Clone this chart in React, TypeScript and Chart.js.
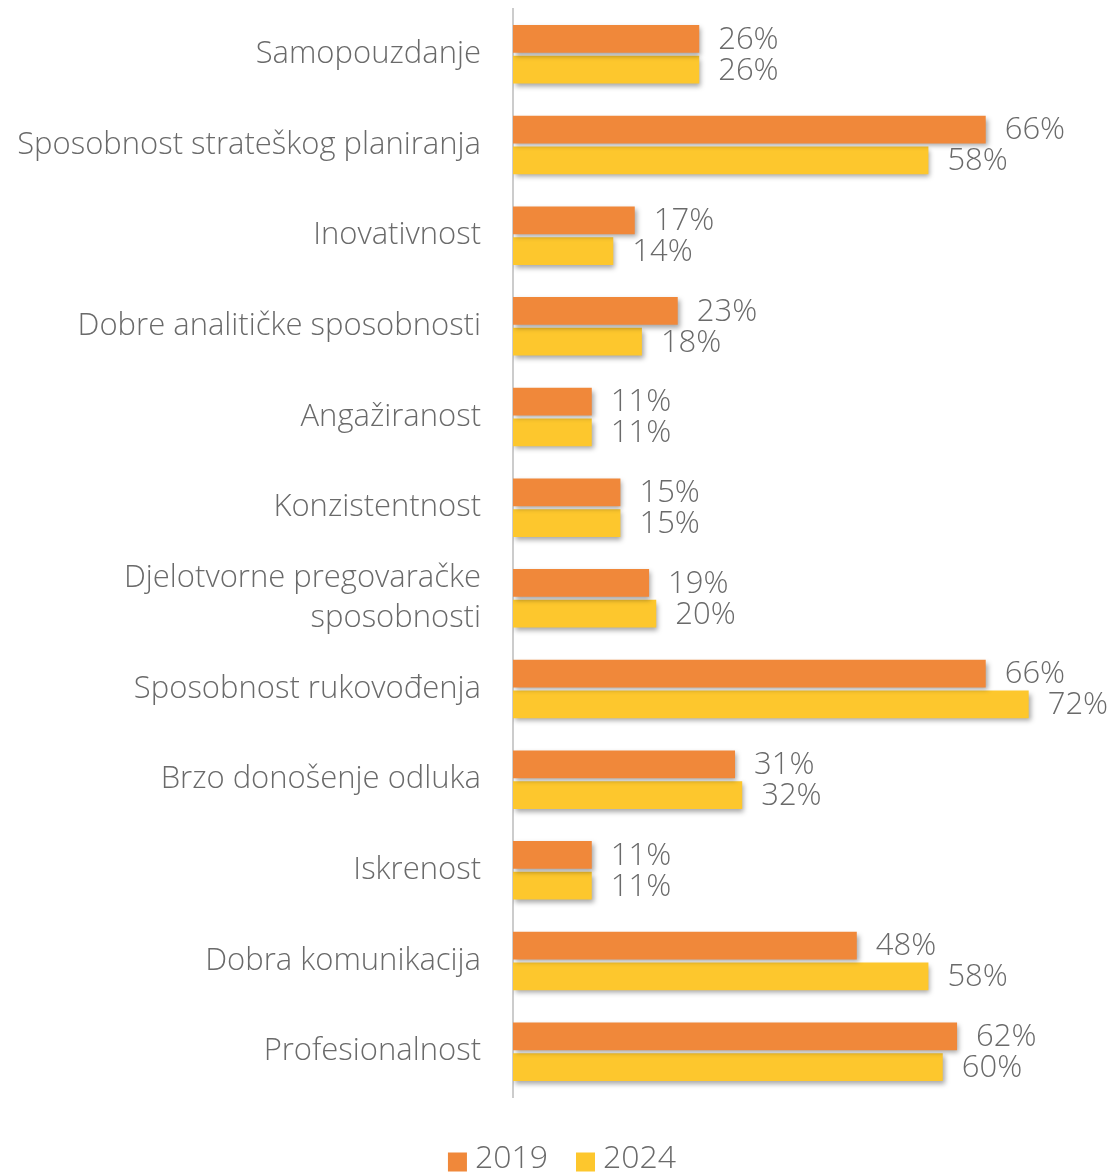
import React, { useEffect, useRef } from "react";
import { Chart, registerables } from "chart.js";

Chart.register(...registerables);

const categories: (string | string[])[] = [
  "Samopouzdanje",
  "Sposobnost strateškog planiranja",
  "Inovativnost",
  "Dobre analitičke sposobnosti",
  "Angažiranost",
  "Konzistentnost",
  ["Djelotvorne pregovaračke", "sposobnosti"],
  "Sposobnost rukovođenja",
  "Brzo donošenje odluka",
  "Iskrenost",
  "Dobra komunikacija",
  "Profesionalnost",
];
const values2019 = [26, 66, 17, 23, 11, 15, 19, 66, 31, 11, 48, 62];
const values2024 = [26, 58, 14, 18, 11, 15, 20, 72, 32, 11, 58, 60];
const seriesNames = ["2019", "2024"];

const FONT = "'Open Sans', 'Noto Sans', sans-serif";
const TEXT = "#6a6a6a";

const shadowPlugin = {
  id: "barShadow",
  beforeDatasetsDraw(chart: any) {
    const ctx = chart.ctx;
    ctx.save();
    ctx.shadowColor = "rgba(0,0,0,0.35)";
    ctx.shadowBlur = 5;
    ctx.shadowOffsetX = 2;
    ctx.shadowOffsetY = 3;
  },
  afterDatasetsDraw(chart: any) {
    chart.ctx.restore();
  },
};

const labelPlugin = {
  id: "valueLabels",
  afterDraw(chart: any) {
    const ctx = chart.ctx;
    ctx.save();
    ctx.font = `300 31px ${FONT}`;
    ctx.fillStyle = TEXT;
    ctx.textAlign = "left";
    ctx.textBaseline = "middle";
    chart.data.datasets.forEach((ds: any, i: number) => {
      const meta = chart.getDatasetMeta(i);
      meta.data.forEach((bar: any, j: number) => {
        ctx.fillText(ds.data[j] + "%", bar.x + 19, bar.y + 1);
      });
    });
    ctx.restore();
  },
};

const legendPlugin = {
  id: "customLegend",
  afterDraw(chart: any) {
    const ctx = chart.ctx;
    ctx.save();
    ctx.font = `300 32px ${FONT}`;
    ctx.textBaseline = "middle";
    ctx.textAlign = "left";
    const box = 19;
    const gapBoxText = 8;
    const gapItems = 28;
    const items = chart.data.datasets.map((ds: any) => ({
      label: ds.label,
      color: ds.backgroundColor,
      w: ctx.measureText(ds.label).width,
    }));
    const total = items.reduce((s: number, it: any) => s + box + gapBoxText + it.w, 0) + gapItems * (items.length - 1);
    let x = 562 - total / 2;
    const cy = 1159;
    items.forEach((it: any) => {
      ctx.fillStyle = it.color;
      ctx.fillRect(x, cy - box / 2 + 3, box, box);
      x += box + gapBoxText;
      ctx.fillStyle = TEXT;
      ctx.fillText(it.label, x, cy);
      x += it.w + gapItems;
    });
    ctx.restore();
  },
};

export default function App() {
  const ref = useRef<HTMLCanvasElement | null>(null);
  useEffect(() => {
    document.body.style.margin = "0";
    if (!ref.current) return;
    const chart = new Chart(ref.current, {
      type: "bar",
      data: {
        labels: categories,
        datasets: [
          {
            label: seriesNames[0],
            data: values2019,
            backgroundColor: "#F0883A",
            categoryPercentage: 0.68,
            barPercentage: 0.9,
          },
          {
            label: seriesNames[1],
            data: values2024,
            backgroundColor: "#FDC72D",
            categoryPercentage: 0.68,
            barPercentage: 0.9,
          },
        ],
      },
      options: {
        indexAxis: "y",
        animation: false,
        responsive: false,
        maintainAspectRatio: false,
        layout: { padding: { top: 9, right: 26, bottom: 76, left: 0 } },
        scales: {
          x: { display: false, min: 0, max: 80 },
          y: {
            afterFit(scale: any) {
              scale.width = 513;
              scale.paddingTop = 0;
              scale.paddingBottom = 0;
            },
            grid: { display: false, drawTicks: false },
            border: { display: true, color: "#cccccc", width: 2 },
            ticks: {
              color: TEXT,
              font: { family: FONT, size: 31, weight: "300" as any, lineHeight: 1.3 },
              padding: 32,
            },
          },
        },
        plugins: {
          legend: { display: false },
          tooltip: { enabled: false },
        },
      },
      plugins: [shadowPlugin, labelPlugin, legendPlugin],
    });
    return () => chart.destroy();
  }, []);
  return (
    <div style={{ width: 1112, height: 1173, overflow: "hidden" }}>
      <canvas ref={ref} width={1112} height={1173} style={{ display: "block" }} />
    </div>
  );
}
